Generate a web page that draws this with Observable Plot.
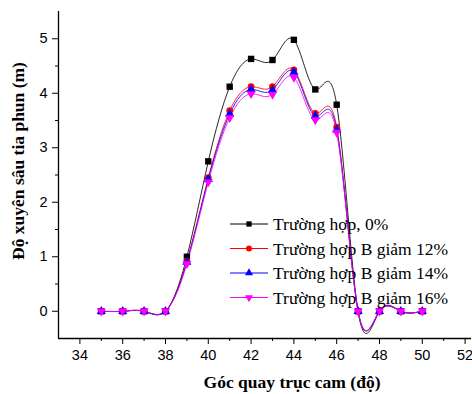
<!DOCTYPE html>
<html>
<head>
<meta charset="utf-8">
<script src="https://cdn.jsdelivr.net/npm/d3@7"></script>
<script src="https://cdn.jsdelivr.net/npm/@observablehq/plot@0.6"></script>
<style>
  body { margin: 0; background: #fff; }
  #wrap { position: relative; width: 472px; height: 394px; }
</style>
</head>
<body>
<div id="wrap"></div>
<script>
const angles = [35, 36, 37, 38, 39, 40, 41, 42, 43, 44, 45, 46, 47, 48, 49, 50];
const s0  = [0, 0, 0, 0, 1.00, 2.75, 4.12, 4.63, 4.61, 4.98, 4.07, 3.79, 0, 0, 0, 0];
const s12 = [0, 0, 0, 0, 0.92, 2.45, 3.68, 4.12, 4.12, 4.43, 3.63, 3.38, 0, 0, 0, 0];
const s14 = [0, 0, 0, 0, 0.90, 2.42, 3.62, 4.07, 4.06, 4.39, 3.58, 3.33, 0, 0, 0, 0];
const s16 = [0, 0, 0, 0, 0.87, 2.37, 3.55, 3.99, 3.98, 4.29, 3.51, 3.28, 0, 0, 0, 0];
const seriesNames = ["Trường hợp, 0%", "Trường hợp B giảm 12%", "Trường hợp B giảm 14%", "Trường hợp B giảm 16%"];
const seriesValues = [s0, s12, s14, s16];
const colors = ["#000000", "#ff0000", "#0000ff", "#ff00ff"];
const symbols = ["square", "circle", "triangle", "triangle"];
const rotations = [0, 0, 0, 180];
const xTicks = [34, 36, 38, 40, 42, 44, 46, 48, 50, 52];
const xMinor = [35, 37, 39, 41, 43, 45, 47, 49, 51];
const yTicks = [0, 1, 2, 3, 4, 5];
const yMinor = [0.5, 1.5, 2.5, 3.5, 4.5];
const xTitle = "Góc quay trục cam (độ)";
const yTitle = "Độ xuyên sâu tia phun (m)";

const marks = [];
seriesValues.forEach((vals, i) => {
  const data = angles.map((a, j) => ({x: a, y: vals[j]}));
  marks.push(Plot.line(data, {x: "x", y: "y", curve: "natural", stroke: colors[i], strokeWidth: 1, strokeOpacity: 0.85}));
});
seriesValues.forEach((vals, i) => {
  const data = angles.map((a, j) => ({x: a, y: vals[j]}));
  marks.push(Plot.dot(data, {x: "x", y: "y", symbol: symbols[i], rotate: rotations[i], fill: colors[i], stroke: "none", r: i === 0 ? 3.6 : 3.4}));
});

const serif = "'Liberation Serif', 'Times New Roman', serif";
const sans = "'Liberation Sans', Arial, sans-serif";

const chart = Plot.plot({
  width: 472,
  height: 394,
  marginLeft: 58,
  marginRight: 1,
  marginTop: 11,
  marginBottom: 56,
  style: {fontFamily: sans, fontSize: "14.5px", background: "#fff", overflow: "visible"},
  x: {domain: [33, 52.3]},
  y: {domain: [-0.5, 5.5]},
  marks: [
    Plot.axisX({ticks: xTicks, tickSize: 6, tickPadding: 5, tickFormat: d3.format("d"), label: null, fontSize: 14.5}),
    Plot.axisX({ticks: xMinor, tickSize: 3, tickFormat: () => "", label: null}),
    Plot.axisY({ticks: yTicks, tickSize: 6, tickPadding: 5, tickFormat: d3.format("d"), label: null, fontSize: 14.5}),
    Plot.axisY({ticks: yMinor, tickSize: 3, tickFormat: () => "", label: null}),
    Plot.ruleX([33], {stroke: "black", strokeWidth: 1.3}),
    Plot.ruleY([-0.5], {stroke: "black", strokeWidth: 1.3}),
    ...marks,
    Plot.text([xTitle], {frameAnchor: "bottom", textAnchor: "middle", dx: 27, dy: 49, text: d => d, fontFamily: serif, fontWeight: "bold", fontSize: 17.5, fill: "black"}),
    Plot.text([yTitle], {frameAnchor: "left", textAnchor: "middle", dx: -40, dy: -14, rotate: -90, text: d => d, fontFamily: serif, fontWeight: "bold", fontSize: 17.5, fill: "black"})
  ]
});
document.getElementById("wrap").appendChild(chart);

// legend (drawn inside the svg)
const svg = d3.select(chart);
const lg = svg.append("g").attr("font-family", serif).attr("font-size", 17.5).attr("text-anchor", "start");
const lx = 230, lw = 38, ly = 224, ldy = 24.5;
seriesNames.forEach((name, i) => {
  const yy = ly + i * ldy;
  lg.append("line").attr("x1", lx).attr("x2", lx + lw).attr("y1", yy).attr("y2", yy).attr("stroke", colors[i]).attr("stroke-width", 1);
  const sym = d3.symbol(i === 0 ? d3.symbolSquare : i === 1 ? d3.symbolCircle : d3.symbolTriangle, 28);
  lg.append("path").attr("d", sym()).attr("fill", colors[i])
    .attr("transform", `translate(${lx + lw / 2},${yy}) rotate(${rotations[i]})`);
  lg.append("text").attr("x", lx + lw + 5).attr("y", yy).attr("dy", "0.35em").attr("fill", "black").text(name);
});
</script>
</body>
</html>
